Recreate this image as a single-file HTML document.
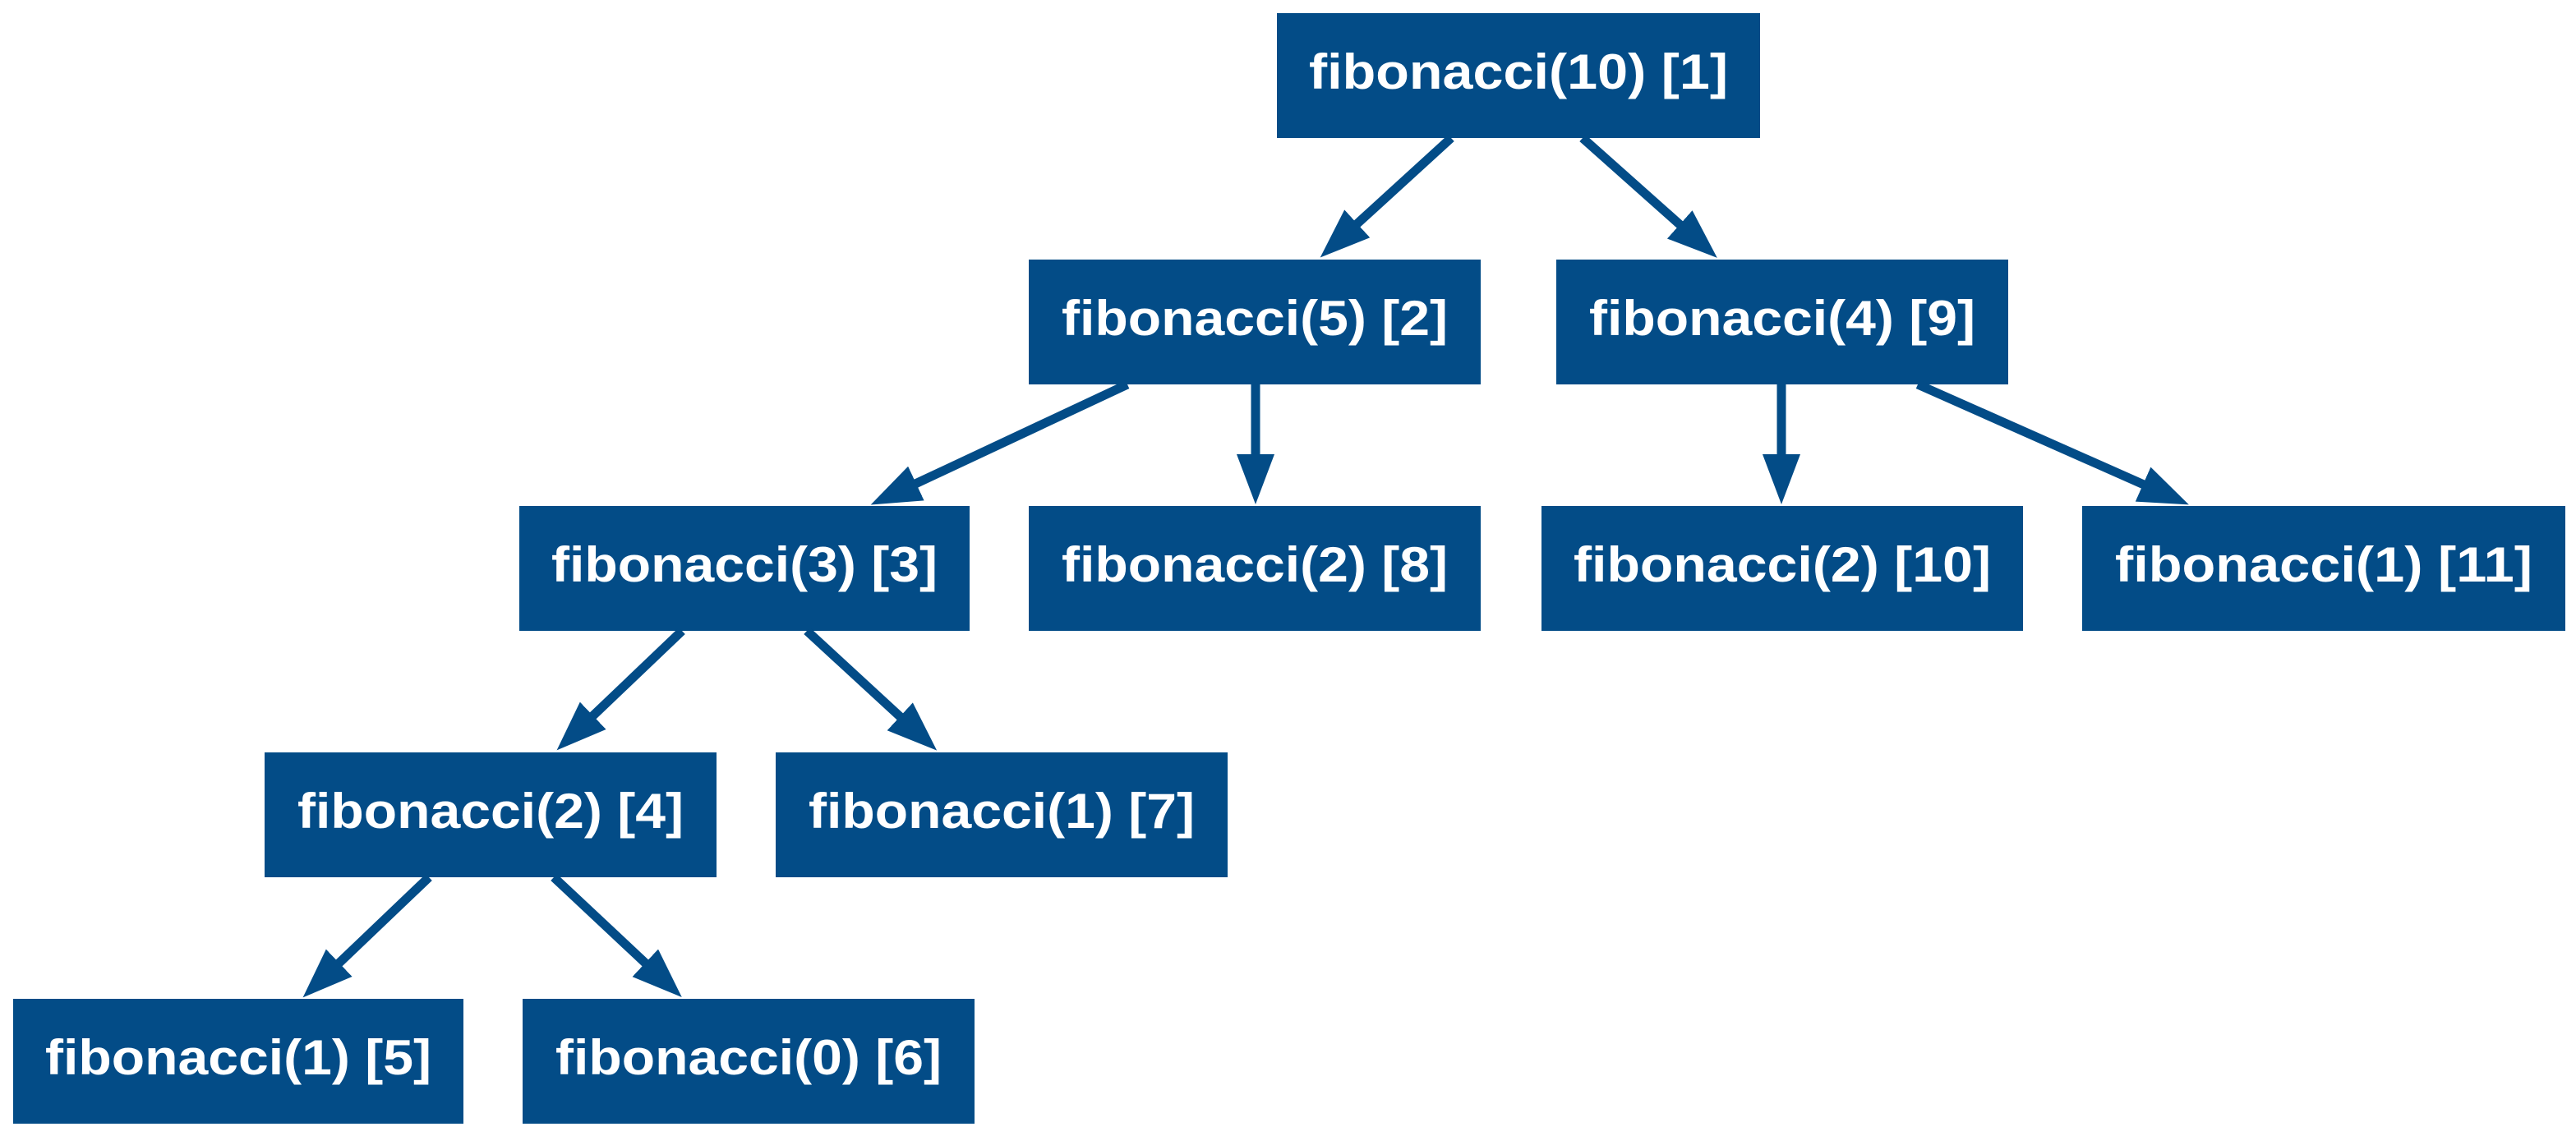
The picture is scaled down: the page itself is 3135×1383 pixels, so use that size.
<!DOCTYPE html>
<html><head><meta charset="utf-8"><style>
html,body{margin:0;padding:0;background:#fff;}
svg{display:block;}
text{font-family:"Liberation Sans","DejaVu Sans",sans-serif;font-weight:bold;fill:#fff;font-size:60px;}
</style></head><body>
<svg width="3135" height="1383" viewBox="0 0 3135 1383" xmlns="http://www.w3.org/2000/svg">
<defs>
<marker id="a" markerUnits="userSpaceOnUse" markerWidth="70" markerHeight="50" refX="1" refY="23" orient="auto">
<path d="M0,0 L61,23 L0,46 Z" fill="#034c87"/>
</marker>
</defs>
<g fill="#034c87">
<rect x="1554" y="16" width="588" height="152"/>
<rect x="1252" y="316" width="550" height="152"/>
<rect x="1894" y="316" width="550" height="152"/>
<rect x="632" y="616" width="548" height="152"/>
<rect x="1252" y="616" width="550" height="152"/>
<rect x="1876" y="616" width="586" height="152"/>
<rect x="2534" y="616" width="588" height="152"/>
<rect x="322" y="916" width="550" height="152"/>
<rect x="944" y="916" width="550" height="152"/>
<rect x="16" y="1216" width="548" height="152"/>
<rect x="636" y="1216" width="550" height="152"/>
</g>
<g stroke="#034c87" stroke-width="11" marker-end="url(#a)">
<line x1="1766" y1="168" x2="1651" y2="273"/>
<line x1="1926" y1="168" x2="2045" y2="274"/>
<line x1="1372" y1="468" x2="1114" y2="589"/>
<line x1="1528" y1="468" x2="1528" y2="554"/>
<line x1="2168" y1="468" x2="2168" y2="554"/>
<line x1="2334" y1="468" x2="2609" y2="590"/>
<line x1="830" y1="768" x2="721" y2="872"/>
<line x1="982" y1="768" x2="1096" y2="873"/>
<line x1="522" y1="1068" x2="412" y2="1173"/>
<line x1="674" y1="1068" x2="786" y2="1173"/>
</g>
<g text-anchor="middle">
<text x="1848" y="108" textLength="510" lengthAdjust="spacingAndGlyphs">fibonacci(10) [1]</text>
<text x="1527" y="408" textLength="470" lengthAdjust="spacingAndGlyphs">fibonacci(5) [2]</text>
<text x="2169" y="408" textLength="470" lengthAdjust="spacingAndGlyphs">fibonacci(4) [9]</text>
<text x="906" y="708" textLength="470" lengthAdjust="spacingAndGlyphs">fibonacci(3) [3]</text>
<text x="1527" y="708" textLength="470" lengthAdjust="spacingAndGlyphs">fibonacci(2) [8]</text>
<text x="2169" y="708" textLength="508" lengthAdjust="spacingAndGlyphs">fibonacci(2) [10]</text>
<text x="2828" y="708" textLength="508" lengthAdjust="spacingAndGlyphs">fibonacci(1) [11]</text>
<text x="597" y="1008" textLength="470" lengthAdjust="spacingAndGlyphs">fibonacci(2) [4]</text>
<text x="1219" y="1008" textLength="470" lengthAdjust="spacingAndGlyphs">fibonacci(1) [7]</text>
<text x="290" y="1308" textLength="470" lengthAdjust="spacingAndGlyphs">fibonacci(1) [5]</text>
<text x="911" y="1308" textLength="470" lengthAdjust="spacingAndGlyphs">fibonacci(0) [6]</text>
</g>
</svg>
</body></html>
